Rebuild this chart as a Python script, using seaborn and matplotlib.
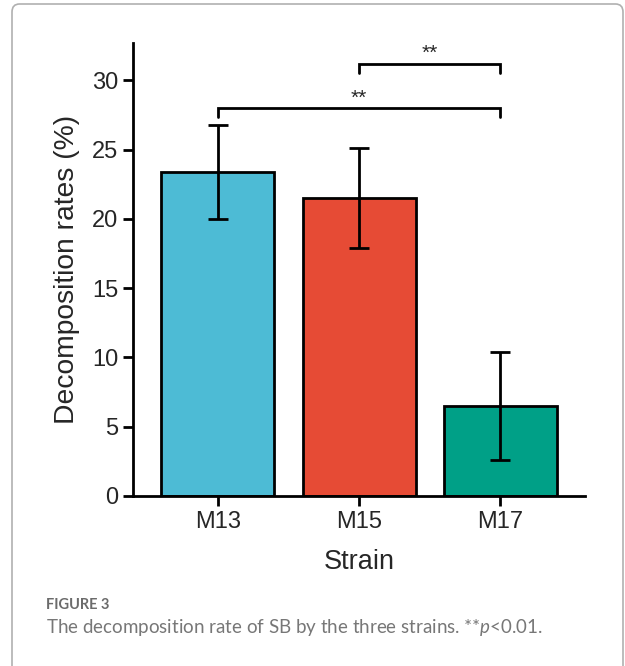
import matplotlib
matplotlib.use('Agg')
import matplotlib.pyplot as plt
import seaborn as sns
import pandas as pd
from matplotlib.patches import FancyBboxPatch

# Data
strains = ['M13', 'M15', 'M17']
rates = [23.4, 21.5, 6.5]
errors = [3.4, 3.6, 3.9]
colors = ['#4DBBD5', '#E64B35', '#00A087']
# significance brackets: (left index, right index, height, label)
sig_pairs = [(1, 2, 31.2, '**'), (0, 2, 28.0, '**')]

df = pd.DataFrame({'Strain': strains, 'Rate': rates})

sns.set_style('ticks')
plt.rcParams['font.family'] = ['Liberation Sans', 'DejaVu Sans']
plt.rcParams['mathtext.fontset'] = 'custom'
plt.rcParams['mathtext.it'] = 'Lato:italic'
plt.rcParams['mathtext.rm'] = 'Lato'

fig = plt.figure(figsize=(6.25, 6.66), dpi=100)
ax = fig.add_axes([0.2128, 0.2553, 0.7232, 0.68])

sns.barplot(data=df, x='Strain', y='Rate', hue='Strain', palette=colors,
            saturation=1, width=0.8, edgecolor='black', linewidth=2,
            legend=False, ax=ax)
ax.errorbar(range(len(strains)), rates, yerr=errors, fmt='none',
            ecolor='black', elinewidth=2, capsize=7.5, capthick=2)

# brackets
for i, j, h, lab in sig_pairs:
    ax.plot([i, i, j, j], [h - 0.65, h, h, h - 0.65], color='black', lw=2,
            clip_on=False, solid_joinstyle='miter')
    ax.text((i + j) / 2, h + 0.05, lab, ha='center', va='bottom', fontsize=15)

ax.set_xlim(-0.6, 2.6)
ax.set_ylim(0, 32.7)
ax.set_yticks([0, 5, 10, 15, 20, 25, 30])
ax.set_xlabel('Strain', fontsize=19.5, labelpad=12)
ax.set_ylabel('Decomposition rates (%)', fontsize=20.3, labelpad=9)
ax.tick_params(labelsize=17, width=2, length=7, color='black')
for s in ['left', 'bottom']:
    ax.spines[s].set_linewidth(2)
    ax.spines[s].set_color('black')
sns.despine(ax=ax)

# frame and caption
fig.patches.append(FancyBboxPatch((12 / 625, -0.05), 611 / 625, 1 - 4 / 666 + 0.05,
                                  boxstyle='round,pad=0,rounding_size=0.012',
                                  transform=fig.transFigure, fill=False,
                                  edgecolor='#b0b0b0', lw=1.2))
fig.text(46 / 625, 1 - 605 / 666, 'FIGURE 3', family='Lato', weight='bold',
         fontsize=10.5, color='#6b6b6b', va='center')
fig.text(46 / 625, 1 - 628 / 666,
         'The decomposition rate of SB by the three strains. **$p$<0.01.',
         family='Lato', fontsize=13.5, color='#777777', va='center')

fig.savefig('out.png', dpi=100)
